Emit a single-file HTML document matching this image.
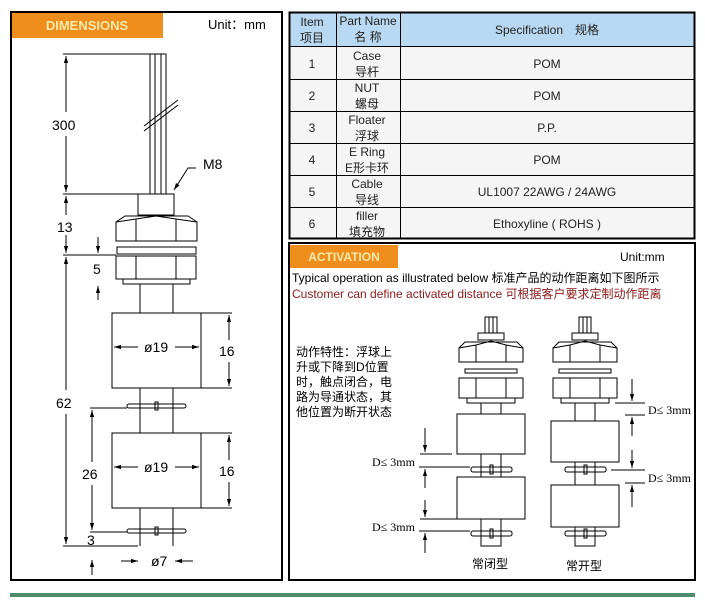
<!DOCTYPE html>
<html><head><meta charset="utf-8"><style>
body{margin:0;background:#fff;width:705px;height:601px;overflow:hidden;font-family:"Liberation Sans","Noto Sans CJK SC",sans-serif}
svg{position:absolute;left:0;top:0}
</style></head><body>
<svg width="705" height="601" viewBox="0 0 705 601" xmlns="http://www.w3.org/2000/svg" font-family="Liberation Sans, Noto Sans CJK SC, sans-serif">
<defs>
<marker id="ar" viewBox="0 0 10 10" refX="10" refY="5" markerWidth="7" markerHeight="7" orient="auto-start-reverse"><path d="M0,2 L10,5 L0,8 Z" fill="#000"/></marker>
</defs>
<rect width="705" height="601" fill="#fff"/>
<rect x="10" y="593" width="685" height="4" fill="#4e8a6c"/>

<rect x="11" y="12" width="271" height="568" fill="#fff" stroke="#000" stroke-width="2"/>
<rect x="12" y="13" width="151" height="25" fill="#ef8e1c"/>
<text x="87" y="30" text-anchor="middle" font-size="13" font-weight="bold" fill="#fde9a8">DIMENSIONS</text>
<text x="208" y="29" font-size="13" fill="#000">Unit：mm</text>

<g stroke="#000" stroke-width="1" fill="none">
<rect x="150" y="54" width="5" height="140"/><rect x="155" y="54" width="6" height="140"/><rect x="161" y="54" width="5" height="140"/>
<line x1="144" y1="126" x2="178" y2="100"/><line x1="144" y1="131" x2="178" y2="105"/>
<rect x="138" y="194" width="36" height="21" fill="#fff"/>
<path d="M116,241 L116,222 L125,216 L188,216 L197,222 L197,241 Z" fill="#fff"/>
<path d="M116,222 L136,219 L156,216 L176,219 L197,222"/>
<line x1="136" y1="219" x2="136" y2="241"/><line x1="176" y1="219" x2="176" y2="241"/>
<rect x="117" y="247" width="79" height="7"/>
<rect x="116" y="256" width="80" height="23"/>
<line x1="136" y1="256" x2="136" y2="279"/><line x1="176" y1="256" x2="176" y2="279"/>
<rect x="123" y="279" width="67" height="5"/>
<line x1="140" y1="284" x2="140" y2="313"/><line x1="173" y1="284" x2="173" y2="313"/>
<rect x="112" y="313" width="89" height="75"/>
<line x1="140" y1="388" x2="140" y2="433"/><line x1="173" y1="388" x2="173" y2="433"/>
<rect x="112" y="433" width="89" height="75"/>
<line x1="140" y1="508" x2="140" y2="546"/><line x1="173" y1="508" x2="173" y2="546"/>
<rect x="127" y="404" width="59" height="4" rx="2"/><rect x="155" y="402" width="3" height="8"/>
<rect x="127" y="529" width="59" height="4" rx="2"/><rect x="155" y="527" width="3" height="8"/>
<line x1="63" y1="54" x2="150" y2="54"/>
<line x1="63" y1="194" x2="138" y2="194"/>
<line x1="63" y1="255" x2="116" y2="255"/>
<line x1="63" y1="546" x2="138" y2="546"/>
<line x1="66" y1="56" x2="66" y2="112" marker-start="url(#ar)"/>
<line x1="66" y1="136" x2="66" y2="192" marker-end="url(#ar)"/>
<line x1="66" y1="196" x2="66" y2="215" marker-start="url(#ar)"/>
<line x1="66" y1="235" x2="66" y2="253" marker-end="url(#ar)"/>
<line x1="66" y1="257" x2="66" y2="390" marker-start="url(#ar)"/>
<line x1="66" y1="414" x2="66" y2="544" marker-end="url(#ar)"/>
<line x1="98" y1="237" x2="98" y2="253" marker-end="url(#ar)"/>
<line x1="98" y1="300" x2="98" y2="286" marker-end="url(#ar)"/>
<line x1="90" y1="408" x2="127" y2="408"/>
<line x1="90" y1="532" x2="127" y2="532"/>
<line x1="92" y1="410" x2="92" y2="462" marker-start="url(#ar)"/>
<line x1="92" y1="485" x2="92" y2="530" marker-end="url(#ar)"/>
<line x1="92" y1="575" x2="92" y2="560" marker-end="url(#ar)"/>
<line x1="201" y1="313" x2="232" y2="313"/><line x1="201" y1="388" x2="232" y2="388"/>
<line x1="229" y1="315" x2="229" y2="340" marker-start="url(#ar)"/>
<line x1="229" y1="362" x2="229" y2="386" marker-end="url(#ar)"/>
<line x1="201" y1="433" x2="232" y2="433"/><line x1="201" y1="508" x2="232" y2="508"/>
<line x1="229" y1="435" x2="229" y2="460" marker-start="url(#ar)"/>
<line x1="229" y1="482" x2="229" y2="506" marker-end="url(#ar)"/>
<line x1="114" y1="347" x2="138" y2="347" marker-start="url(#ar)"/>
<line x1="175" y1="347" x2="199" y2="347" marker-end="url(#ar)"/>
<line x1="114" y1="467" x2="138" y2="467" marker-start="url(#ar)"/>
<line x1="175" y1="467" x2="199" y2="467" marker-end="url(#ar)"/>
<line x1="121" y1="561" x2="138" y2="561" marker-end="url(#ar)"/>
<line x1="193" y1="561" x2="175" y2="561" marker-end="url(#ar)"/>
<path d="M174,190 L188,168 L196,168" marker-start="url(#ar)"/>
</g>
<g font-size="14" fill="#000">
<text x="52" y="130">300</text><text x="57" y="232">13</text><text x="93" y="274">5</text>
<text x="56" y="408">62</text><text x="82" y="479">26</text><text x="87" y="545">3</text>
<text x="144" y="352">ø19</text><text x="144" y="472">ø19</text>
<text x="219" y="356">16</text><text x="219" y="476">16</text>
<text x="151" y="566">ø7</text><text x="203" y="169">M8</text>
</g>

<g>
<rect x="289" y="12" width="406" height="34" fill="#b9d9f3"/>
<rect x="289" y="46" width="406" height="192" fill="#f5f5f5"/>
<g stroke="#000" stroke-width="1">
<rect x="289.5" y="12.5" width="405" height="226" fill="none" stroke-width="2"/>
<line x1="289" y1="46.5" x2="695" y2="46.5"/><line x1="289" y1="79.5" x2="695" y2="79.5"/>
<line x1="289" y1="111.5" x2="695" y2="111.5"/><line x1="289" y1="143.5" x2="695" y2="143.5"/>
<line x1="289" y1="175.5" x2="695" y2="175.5"/><line x1="289" y1="207.5" x2="695" y2="207.5"/>
<line x1="336.5" y1="12" x2="336.5" y2="238"/><line x1="400.5" y1="12" x2="400.5" y2="238"/>
</g>
<g font-size="12" fill="#222" text-anchor="middle">
<text x="312" y="26">Item</text><text x="312" y="42">项目</text>
<text x="368" y="25">Part Name</text><text x="368" y="41">名 称</text>
<text x="547" y="34">Specification　规格</text>
<text x="312" y="68">1</text><text x="367" y="60">Case</text><text x="367" y="76">导杆</text><text x="547" y="68">POM</text>
<text x="312" y="100">2</text><text x="367" y="92">NUT</text><text x="367" y="108">螺母</text><text x="547" y="100">POM</text>
<text x="312" y="132">3</text><text x="367" y="124">Floater</text><text x="367" y="140">浮球</text><text x="547" y="132">P.P.</text>
<text x="312" y="164">4</text><text x="367" y="156">E Ring</text><text x="367" y="172">E形卡环</text><text x="547" y="164">POM</text>
<text x="312" y="196">5</text><text x="367" y="188">Cable</text><text x="367" y="204">导线</text><text x="547" y="196">UL1007  22AWG / 24AWG</text>
<text x="312" y="228">6</text><text x="367" y="220">filler</text><text x="367" y="236">填充物</text><text x="547" y="228">Ethoxyline ( ROHS )</text>
</g>
</g>

<rect x="289" y="243" width="406" height="337" fill="#fff" stroke="#000" stroke-width="2"/>
<rect x="290" y="245" width="108" height="23" fill="#ef8e1c"/>
<text x="344" y="261" text-anchor="middle" font-size="12" font-weight="bold" fill="#fde9a8">ACTIVATION</text>
<text x="620" y="261" font-size="12" fill="#000">Unit:mm</text>
<text x="292" y="282" font-size="12" fill="#000">Typical operation as illustrated below  标准产品的动作距离如下图所示</text>
<text x="292" y="298" font-size="12" fill="#8b1a1a">Customer can define activated distance 可根据客户要求定制动作距离</text>
<g font-size="12" fill="#000">
<text x="296" y="356">动作特性：浮球上</text>
<text x="296" y="371">升或下降到D位置</text>
<text x="296" y="386">时，触点闭合，电</text>
<text x="296" y="401">路为导通状态，其</text>
<text x="296" y="416">他位置为断开状态</text>
<text x="490" y="568" text-anchor="middle">常闭型</text>
<text x="584" y="570" text-anchor="middle">常开型</text>
</g>

<g stroke="#000" stroke-width="1" fill="none">
<g transform="translate(491,0)">
<rect x="-6" y="317" width="4" height="16"/><rect x="-2" y="317" width="4" height="16"/><rect x="2" y="317" width="4" height="16"/>
<rect x="-13" y="333" width="26" height="7" fill="#fff"/>
<path d="M-32,362 L-32,348 L-26,342 L26,342 L32,348 L32,362 Z" fill="#fff"/>
<path d="M-32,348 L-15,345 L0,341 L15,345 L32,348"/>
<line x1="-15" y1="345" x2="-15" y2="362"/><line x1="15" y1="345" x2="15" y2="362"/>
<rect x="-26" y="369" width="52" height="4"/>
<rect x="-32" y="378" width="64" height="20"/>
<line x1="-15" y1="378" x2="-15" y2="398"/><line x1="15" y1="378" x2="15" y2="398"/>
<rect x="-24" y="398" width="48" height="5"/>
<line x1="-10" y1="403" x2="-10" y2="414"/><line x1="10" y1="403" x2="10" y2="414"/>
<rect x="-34" y="414" width="68" height="40"/>
<line x1="-10" y1="454" x2="-10" y2="477"/><line x1="10" y1="454" x2="10" y2="477"/>
<rect x="-34" y="477" width="68" height="42"/>
<rect x="-10" y="519" width="20" height="27"/>
<rect x="-20" y="467" width="41" height="5" rx="2"/><rect x="-1" y="465" width="3" height="9"/>
<rect x="-20" y="531" width="41" height="5" rx="2"/><rect x="-1" y="529" width="3" height="9"/>
</g>
<g transform="translate(585,0)">
<rect x="-6" y="317" width="4" height="16"/><rect x="-2" y="317" width="4" height="16"/><rect x="2" y="317" width="4" height="16"/>
<rect x="-13" y="333" width="26" height="7" fill="#fff"/>
<path d="M-32,362 L-32,348 L-26,342 L26,342 L32,348 L32,362 Z" fill="#fff"/>
<path d="M-32,348 L-15,345 L0,341 L15,345 L32,348"/>
<line x1="-15" y1="345" x2="-15" y2="362"/><line x1="15" y1="345" x2="15" y2="362"/>
<rect x="-26" y="369" width="52" height="4"/>
<rect x="-32" y="378" width="64" height="20"/>
<line x1="-15" y1="378" x2="-15" y2="398"/><line x1="15" y1="378" x2="15" y2="398"/>
<rect x="-24" y="398" width="48" height="5"/>
<line x1="-10" y1="403" x2="-10" y2="421"/><line x1="10" y1="403" x2="10" y2="421"/>
<rect x="-34" y="421" width="68" height="41"/>
<line x1="-10" y1="462" x2="-10" y2="485"/><line x1="10" y1="462" x2="10" y2="485"/>
<rect x="-34" y="485" width="68" height="42"/>
<rect x="-10" y="527" width="20" height="19"/>
<rect x="-20" y="467" width="41" height="5" rx="2"/><rect x="-1" y="465" width="3" height="9"/>
<rect x="-20" y="531" width="41" height="5" rx="2"/><rect x="-1" y="529" width="3" height="9"/>
</g>
<line x1="420" y1="454" x2="452" y2="454"/><line x1="419" y1="467" x2="470" y2="467"/>
<line x1="425" y1="428" x2="425" y2="452" marker-end="url(#ar)"/>
<line x1="425" y1="488" x2="425" y2="469" marker-end="url(#ar)"/>
<line x1="420" y1="519" x2="457" y2="519"/><line x1="419" y1="531" x2="470" y2="531"/>
<line x1="425" y1="500" x2="425" y2="517" marker-end="url(#ar)"/>
<line x1="425" y1="553" x2="425" y2="533" marker-end="url(#ar)"/>
<line x1="615" y1="403" x2="645" y2="403"/><line x1="625" y1="415" x2="645" y2="415"/>
<line x1="632" y1="379" x2="632" y2="401" marker-end="url(#ar)"/>
<line x1="632" y1="436" x2="632" y2="417" marker-end="url(#ar)"/>
<line x1="611" y1="470" x2="645" y2="470"/><line x1="625" y1="483" x2="645" y2="483"/>
<line x1="632" y1="450" x2="632" y2="468" marker-end="url(#ar)"/>
<line x1="632" y1="507" x2="632" y2="485" marker-end="url(#ar)"/>
</g>
<g font-size="12" fill="#000" font-family="Liberation Serif, Noto Serif CJK SC, serif">
<text x="372" y="466">D≤ 3mm</text>
<text x="372" y="531">D≤ 3mm</text>
<text x="648" y="414">D≤ 3mm</text>
<text x="648" y="482">D≤ 3mm</text>
</g>
</svg>
</body></html>
